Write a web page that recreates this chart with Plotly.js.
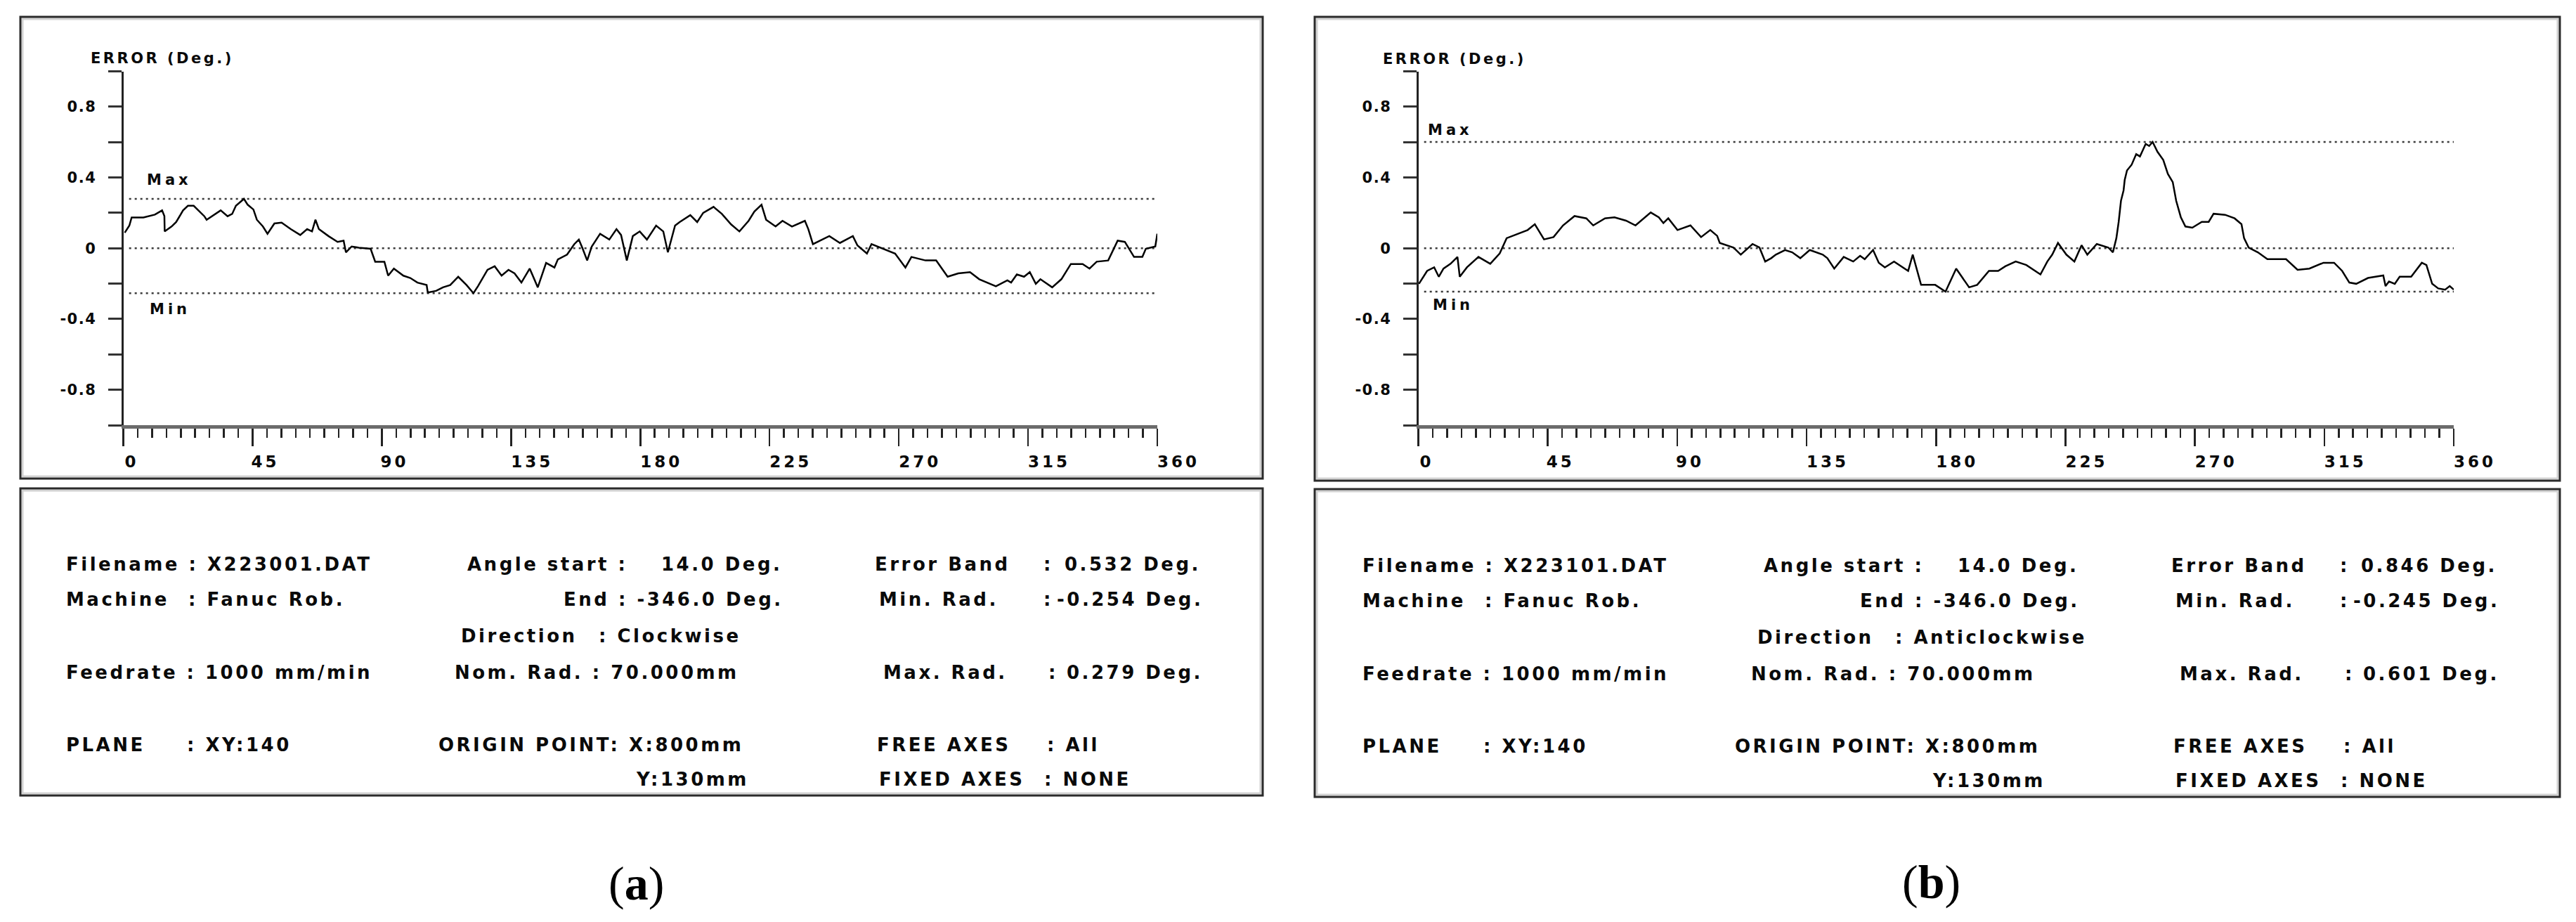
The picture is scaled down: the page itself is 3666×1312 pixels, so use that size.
<!DOCTYPE html>
<html>
<head>
<meta charset="utf-8">
<script src="https://cdn.plot.ly/plotly-3.0.1.min.js"></script>
<style>
html, body { margin: 0; padding: 0; background: #ffffff; }
#chart { width: 3666px; height: 1312px; }
</style>
</head>
<body>
<div id="chart"></div>
<script>
// ===================== DATA =====================
const angleTicks = [0, 45, 90, 135, 180, 225, 270, 315, 360];
const errorTicks = [-1, -0.8, -0.6, -0.4, -0.2, 0, 0.2, 0.4, 0.6, 0.8, 1];
const errorTickText = ['', '-0.8', '', '-0.4', '', '0', '', '0.4', '', '0.8', ''];
const yTitle = 'ERROR (Deg.)';
const bandLabels = ['Max', 'Min'];
const panelCaptions = ['a', 'b'];

// (a) clockwise run
const angleA = [0.5, 2.1, 2.9, 7.0, 11.0, 13.5, 14.3, 14.4, 16.8, 18.4, 20.8, 22.5, 24.5, 26.5, 28.2, 29.0, 31.4, 33.9, 36.3, 37.9, 39.2, 42.0, 43.3, 45.3, 46.5, 48.6, 50.2, 52.6, 55.1, 58.3, 61.6, 64.0, 65.7, 66.9, 68.1, 71.4, 74.6, 76.7, 77.5, 79.5, 82.0, 86.1, 87.7, 90.9, 92.2, 94.2, 97.5, 99.9, 102.4, 105.6, 106.0, 108.9, 111.3, 113.8, 116.6, 119.5, 121.9, 123.5, 126.8, 129.3, 131.7, 134.1, 136.2, 138.6, 141.5, 144.3, 147.2, 150.1, 151.3, 154.5, 157.0, 158.6, 159.8, 161.5, 163.1, 166.0, 169.2, 171.7, 173.3, 174.9, 175.3, 177.4, 179.8, 182.3, 185.5, 188.0, 189.6, 192.1, 193.7, 197.4, 199.8, 201.9, 205.5, 208.4, 211.6, 214.5, 217.7, 219.7, 222.2, 223.8, 227.1, 229.5, 232.8, 237.3, 238.5, 240.1, 243.4, 245.8, 249.5, 254.0, 255.6, 258.9, 260.5, 265.4, 268.7, 272.3, 274.4, 279.3, 283.0, 287.0, 290.7, 294.8, 298.0, 303.8, 307.8, 309.1, 311.1, 313.6, 315.6, 317.7, 319.3, 323.4, 326.6, 329.9, 334.0, 336.4, 338.9, 342.9, 344.6, 346.2, 348.7, 351.9, 354.8, 356.0, 359.3, 360.0];
const errorA = [0.088, 0.128, 0.174, 0.174, 0.190, 0.214, 0.182, 0.095, 0.123, 0.148, 0.214, 0.240, 0.240, 0.207, 0.181, 0.161, 0.187, 0.214, 0.181, 0.194, 0.240, 0.279, 0.246, 0.219, 0.161, 0.123, 0.082, 0.140, 0.145, 0.108, 0.075, 0.108, 0.095, 0.161, 0.108, 0.069, 0.036, 0.043, -0.023, 0.010, 0.003, -0.003, -0.076, -0.076, -0.155, -0.115, -0.155, -0.168, -0.194, -0.208, -0.250, -0.241, -0.221, -0.208, -0.161, -0.208, -0.254, -0.214, -0.122, -0.102, -0.155, -0.122, -0.142, -0.194, -0.115, -0.221, -0.083, -0.109, -0.063, -0.036, 0.023, 0.049, 0.003, -0.069, 0.010, 0.082, 0.049, 0.108, 0.075, -0.036, -0.069, 0.069, 0.095, 0.049, 0.128, 0.095, -0.023, 0.128, 0.148, 0.187, 0.148, 0.200, 0.234, 0.194, 0.135, 0.095, 0.155, 0.207, 0.246, 0.161, 0.123, 0.155, 0.123, 0.155, 0.108, 0.023, 0.049, 0.069, 0.030, 0.069, 0.016, -0.030, 0.023, -0.010, -0.030, -0.109, -0.049, -0.069, -0.069, -0.161, -0.142, -0.135, -0.175, -0.215, -0.181, -0.194, -0.148, -0.161, -0.135, -0.201, -0.175, -0.221, -0.175, -0.089, -0.089, -0.115, -0.076, -0.069, -0.010, 0.043, 0.036, -0.049, -0.049, -0.003, 0.010, 0.082];
const minRadA = -0.254;
const maxRadA = 0.279;

// (b) anticlockwise run
const angleB = [0.2, 3.05, 5.5, 7.1, 8.75, 11.2, 13.6, 14.4, 16.9, 20.9, 25.0, 28.3, 30.7, 34.8, 38.0, 40.5, 43.7, 47.0, 50.3, 54.3, 58.4, 60.8, 64.9, 68.2, 72.2, 75.5, 77.9, 80.8, 83.6, 85.2, 86.9, 90.1, 94.6, 98.3, 101.5, 103.9, 104.8, 109.6, 112.1, 116.2, 118.6, 120.6, 122.7, 124.3, 127.5, 130.0, 132.8, 136.1, 140.6, 142.2, 144.6, 147.9, 151.2, 153.6, 155.2, 158.1, 160.1, 162.2, 165.4, 170.3, 171.9, 173.5, 174.8, 179.7, 183.3, 187.0, 191.5, 194.3, 198.4, 201.6, 204.1, 207.7, 211.4, 216.3, 218.7, 220.4, 222.4, 225.3, 228.1, 230.6, 232.6, 235.9, 239.9, 241.5, 242.7, 243.5, 244.3, 245.2, 245.6, 246.4, 248.0, 249.6, 250.9, 252.9, 254.1, 255.3, 257.0, 259.0, 260.6, 262.3, 263.5, 265.1, 266.7, 269.1, 272.4, 274.8, 276.5, 280.5, 283.8, 286.2, 287.1, 288.7, 291.9, 295.2, 301.7, 305.7, 309.8, 314.7, 318.4, 321.2, 323.7, 326.1, 330.2, 335.5, 336.3, 337.5, 339.5, 341.2, 345.2, 348.9, 350.5, 352.5, 354.6, 357.0, 358.6, 360.0];
const errorB = [-0.201, -0.128, -0.108, -0.161, -0.115, -0.088, -0.049, -0.161, -0.108, -0.049, -0.088, -0.029, 0.057, 0.083, 0.103, 0.136, 0.050, 0.063, 0.129, 0.182, 0.169, 0.129, 0.169, 0.175, 0.156, 0.129, 0.162, 0.202, 0.175, 0.142, 0.169, 0.103, 0.129, 0.063, 0.103, 0.070, 0.030, 0.004, -0.036, 0.024, 0.004, -0.075, -0.056, -0.036, -0.010, -0.023, -0.056, -0.010, -0.036, -0.056, -0.115, -0.049, -0.075, -0.043, -0.062, -0.010, -0.082, -0.108, -0.075, -0.128, -0.036, -0.128, -0.207, -0.207, -0.245, -0.115, -0.221, -0.207, -0.128, -0.128, -0.102, -0.075, -0.095, -0.148, -0.075, -0.036, 0.030, -0.036, -0.075, 0.017, -0.036, 0.024, 0.004, -0.023, 0.057, 0.149, 0.268, 0.327, 0.386, 0.440, 0.472, 0.532, 0.519, 0.590, 0.578, 0.601, 0.545, 0.499, 0.420, 0.374, 0.268, 0.176, 0.123, 0.116, 0.149, 0.149, 0.195, 0.189, 0.169, 0.136, 0.057, 0.004, -0.023, -0.062, -0.062, -0.122, -0.115, -0.082, -0.082, -0.128, -0.194, -0.201, -0.168, -0.154, -0.214, -0.188, -0.201, -0.161, -0.161, -0.082, -0.095, -0.201, -0.227, -0.234, -0.214, -0.234];
const minRadB = -0.245;
const maxRadB = 0.601;

// span of the dotted Max / 0 / Min reference lines (degrees)
const refSpan = [2, 360];

// information panel texts (same slot order for both panels)
const infoTextA = ['Filename : X223001.DAT', 'Machine', ': Fanuc Rob.', 'Feedrate : 1000 mm/min', 'PLANE', ': XY:140',
  'Angle start :', '14.0 Deg.', 'End : -346.0 Deg.', 'Direction', ': Clockwise', 'Nom. Rad. : 70.000mm',
  'ORIGIN POINT: X:800mm', 'Y:130mm',
  'Error Band', ':', '0.532 Deg.', 'Min. Rad.', ':', '-0.254 Deg.', 'Max. Rad.', ':', '0.279 Deg.',
  'FREE AXES', ': All', 'FIXED AXES', ': NONE'];
const infoTextB = ['Filename : X223101.DAT', 'Machine', ': Fanuc Rob.', 'Feedrate : 1000 mm/min', 'PLANE', ': XY:140',
  'Angle start :', '14.0 Deg.', 'End : -346.0 Deg.', 'Direction', ': Anticlockwise', 'Nom. Rad. : 70.000mm',
  'ORIGIN POINT: X:800mm', 'Y:130mm',
  'Error Band', ':', '0.846 Deg.', 'Min. Rad.', ':', '-0.245 Deg.', 'Max. Rad.', ':', '0.601 Deg.',
  'FREE AXES', ': All', 'FIXED AXES', ': NONE'];

// ===================== LAYOUT =====================
const W = 3666, H = 1312;
const px = x => x / W;
const py = y => 1 - y / H;
const sp = (t, ls) => t === '' ? '' : '<span style="letter-spacing:' + ls + 'px">' + t + '</span>';
const NB = '\u00a0';
const padLeft = v => { const s = String(v); return NB.repeat(Math.round(5 * s.length / 3)) + s; };

const ink = '#0a0a0a';
const sans = 'DejaVu Sans';

// minor angle ticks every 5 degrees
const minorAngleTicks = [];
for (let a = 5; a < 360; a += 5) if (a % 45 !== 0) minorAngleTicks.push(a);

function xAxis(d0, d1, anchor) {
  return {
    domain: [px(d0), px(d1)], anchor: anchor, range: [0, 360],
    showgrid: false, zeroline: false, showline: true, linewidth: 5, linecolor: '#6b6b6b',
    tickmode: 'array', tickvals: angleTicks, ticktext: angleTicks.map(v => sp(padLeft(v), 4)),
    ticks: 'outside', ticklen: 25, tickwidth: 2.5, tickcolor: '#222',
    tickfont: { family: sans, size: 23, color: ink, weight: 'bold' },
    ticklabelstandoff: 2,
    minor: { tickmode: 'array', tickvals: minorAngleTicks, ticks: 'outside', ticklen: 13, tickwidth: 2.5, tickcolor: '#222', showgrid: false },
    fixedrange: true
  };
}
function yAxis(anchor) {
  return {
    domain: [py(605), py(101.5)], anchor: anchor, range: [-1, 1],
    showgrid: false, zeroline: false, showline: true, linewidth: 3, linecolor: '#222',
    tickmode: 'array', tickvals: errorTicks, ticktext: errorTickText.map(t => sp(t, 1.5)),
    ticks: 'outside', ticklen: 19, tickwidth: 3, tickcolor: '#333',
    tickfont: { family: sans, size: 21, color: ink, weight: 'bold' },
    ticklabelstandoff: 12,
    fixedrange: true
  };
}

function curve(x, y, xa, ya) {
  return { type: 'scatter', mode: 'lines', x: x, y: y, xaxis: xa, yaxis: ya,
    line: { color: '#000000', width: 2.5 }, hoverinfo: 'skip', showlegend: false };
}
function refLine(v, xa, ya) {
  return { type: 'scatter', mode: 'lines', x: refSpan, y: [v, v], xaxis: xa, yaxis: ya,
    line: { color: '#3a3a3a', width: 2.5, dash: '3px,5px' }, hoverinfo: 'skip', showlegend: false };
}

const data = [
  refLine(maxRadA, 'x', 'y'), refLine(0, 'x', 'y'), refLine(minRadA, 'x', 'y'),
  curve(angleA, errorA, 'x', 'y'),
  refLine(maxRadB, 'x2', 'y2'), refLine(0, 'x2', 'y2'), refLine(minRadB, 'x2', 'y2'),
  curve(angleB, errorB, 'x2', 'y2')
];

// boxes
function box(x0, y0, x1, y1) {
  return [
    { type: 'rect', xref: 'paper', yref: 'paper', x0: px(x0 + 3), x1: px(x1 - 3), y0: py(y1 - 3), y1: py(y0 + 3),
      line: { color: '#d2d2d2', width: 3 }, fillcolor: 'rgba(0,0,0,0)', layer: 'below' },
    { type: 'rect', xref: 'paper', yref: 'paper', x0: px(x0), x1: px(x1), y0: py(y1), y1: py(y0),
      line: { color: '#2a2a2a', width: 3 }, fillcolor: 'rgba(0,0,0,0)', layer: 'below' }
  ];
}
const shapes = [].concat(
  box(29, 24, 1797, 681), box(29, 695, 1797, 1132),
  box(1871, 24, 3643, 684), box(1871, 696, 3643, 1134)
);

const annotations = [];
// y axis headers
[[127, 83], [1966, 84]].forEach(p => annotations.push({
  xref: 'paper', yref: 'paper', x: px(p[0]), y: py(p[1]), xanchor: 'left', yanchor: 'middle',
  text: sp(yTitle, 3.5), showarrow: false, font: { family: sans, size: 21, color: ink, weight: 'bold' }
}));
// Max / Min labels
[
  ['x', 'y', 7.8, maxRadA, 27, bandLabels[0]], ['x', 'y', 8.6, minRadA, -23, bandLabels[1]],
  ['x2', 'y2', 2.7, maxRadB, 17, bandLabels[0]], ['x2', 'y2', 4.6, minRadB, -19, bandLabels[1]]
].forEach(m => annotations.push({
  xref: m[0], yref: m[1], x: m[2], y: m[3], yshift: m[4], xanchor: 'left', yanchor: 'middle',
  text: sp(m[5], 5), showarrow: false, font: { family: sans, size: 21, color: ink, weight: 'bold' }
}));
// info panels
const infoRows = [803, 853, 905, 957, 1060, 1109];
const infoSlots = [
  [92, 0, 'left'], [92, 1, 'left'], [266, 1, 'left'], [92, 3, 'left'], [92, 4, 'left'], [264, 4, 'left'],
  [663, 0, 'left'], [1115, 0, 'right'], [1117, 1, 'right'], [654, 2, 'left'], [850, 2, 'left'], [645, 3, 'left'],
  [622, 4, 'left'], [1068, 5, 'right'],
  [1243, 0, 'left'], [1483, 0, 'left'], [1711, 0, 'right'],
  [1249, 1, 'left'], [1483, 1, 'left'], [1714, 1, 'right'],
  [1255, 3, 'left'], [1490, 3, 'left'], [1714, 3, 'right'],
  [1246, 4, 'left'], [1488, 4, 'left'], [1249, 5, 'left'], [1484, 5, 'left']
];
[[infoTextA, 0, 0], [infoTextB, 1845, 2]].forEach(panel => {
  panel[0].forEach((t, i) => {
    const s = infoSlots[i];
    annotations.push({
      xref: 'paper', yref: 'paper', x: px(s[0] + panel[1]), y: py(infoRows[s[1]] + panel[2]),
      xanchor: s[2], yanchor: 'middle', text: sp(t, 3.5), showarrow: false,
      font: { family: sans, size: 26, color: ink, weight: 'bold' }
    });
  });
});
// captions
[[905, 1257], [2748, 1255]].forEach((p, i) => annotations.push({
  xref: 'paper', yref: 'paper', x: px(p[0]), y: py(p[1]), xanchor: 'center', yanchor: 'middle',
  text: '(<b>' + panelCaptions[i] + '</b>)', showarrow: false,
  font: { family: 'Liberation Serif', size: 68, color: '#000' }
}));

const layout = {
  width: W, height: H,
  margin: { l: 0, r: 0, t: 0, b: 0 },
  paper_bgcolor: '#ffffff', plot_bgcolor: '#ffffff',
  font: { family: sans, color: ink },
  showlegend: false,
  xaxis: xAxis(175.5, 1647, 'y'),
  yaxis: yAxis('x'),
  xaxis2: xAxis(2018.5, 3492, 'y2'),
  yaxis2: yAxis('x2'),
  shapes: shapes,
  annotations: annotations
};

Plotly.newPlot('chart', data, layout, { staticPlot: true, displayModeBar: false });
</script>
</body>
</html>
